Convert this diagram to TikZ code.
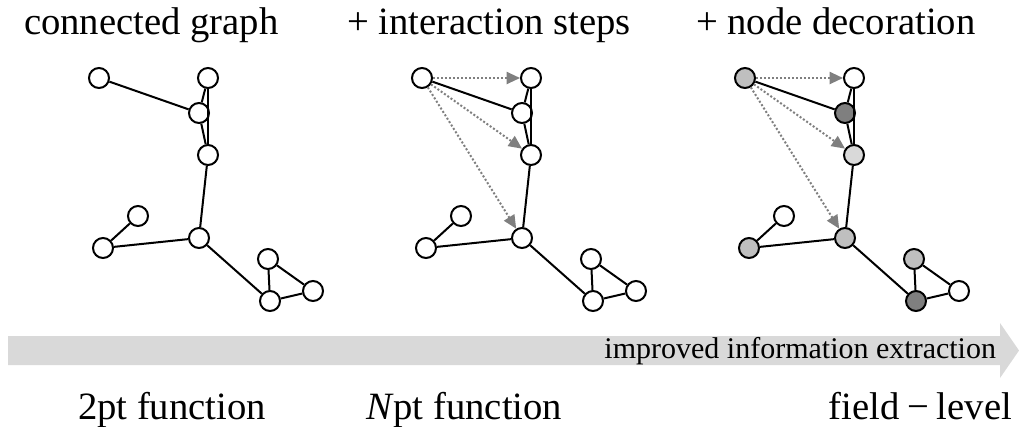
\documentclass[tikz,border=0pt]{standalone}
\usepackage{fontspec}
\setmainfont{Liberation Serif}
\usetikzlibrary{arrows.meta}

\definecolor{lgray}{HTML}{BFBFBF}
\definecolor{dgray}{HTML}{7F7F7F}
\definecolor{pgray}{HTML}{D9D9D9}
\definecolor{bargray}{HTML}{D9D9D9}

\tikzset{every picture/.style={line width=1.5pt}}
\tikzset{
  vtx/.style={circle, draw=black, minimum size=15pt, inner sep=0pt},
  hint/.style={draw=dgray, dash pattern=on 1.5pt off 1.5pt, -{Triangle[length=10pt,width=9pt]}},
  title/.style={anchor=base west, inner sep=0pt, font=\fontsize{29}{34}\selectfont},
  small/.style={anchor=base east, inner sep=0pt, font=\fontsize{22.5}{26}\selectfont}
}

\begin{document}
\begin{tikzpicture}[x=0.75pt,y=0.75pt,yscale=-1,xscale=1]
\useasboundingbox (0,0) rectangle (1019,426);

% three copies of the graph, shifted to the right
\foreach \g/\fa/\fc/\fd/\ff/\fg/\fh/\fj in {1/white/white/white/white/white/white/white,
    2/white/white/white/white/white/white/white,
    3/lgray/dgray/pgray/lgray/lgray/lgray/dgray}{
  \begin{scope}[shift={({323*(\g-1)},0)}]
    % Nodes
    \node[vtx, fill=\fa] (a\g) at (99,78) {};
    \node[vtx, fill=white] (b\g) at (208,78) {};
    \node[vtx, fill=\fc] (c\g) at (199,113) {};
    \node[vtx, fill=\fd] (d\g) at (208,155) {};
    \node[vtx, fill=white] (e\g) at (138,216) {};
    \node[vtx, fill=\ff] (f\g) at (103,248) {};
    \node[vtx, fill=\fg] (g\g) at (199,238) {};
    \node[vtx, fill=\fh] (h\g) at (268,259) {};
    \node[vtx, fill=white] (i\g) at (313,291) {};
    \node[vtx, fill=\fj] (j\g) at (270,301) {};
    % Edges
    \draw (a\g) -- (c\g);
    \draw (b\g) -- (c\g);
    \draw (b\g) -- (d\g);
    \draw (c\g) -- (d\g);
    \draw (d\g) -- (g\g);
    \draw (g\g) -- (f\g);
    \draw (f\g) -- (e\g);
    \draw (g\g) -- (j\g);
    \draw (j\g) -- (h\g);
    \draw (h\g) -- (i\g);
    \draw (i\g) -- (j\g);
  \end{scope}
}

% interaction steps
\foreach \g in {2,3}
  \foreach \t in {b,d,g}
    \draw[hint] (a\g) -- (\t\g);

% Bar arrow
\fill[bargray] (8,336) -- (1000,336) -- (1000,323) -- (1019,350.5) -- (1000,378) -- (1000,365) -- (8,365) -- cycle;

% Text Node
\node[small] (gain) at (997,358) {improved information extraction};
% Text Node
\node[title] (head1) at (23,34) {connected graph};
% Text Node
\node[title] (head2) at (346,34) {+ interaction steps};
% Text Node
\node[title] (head3) at (695,34) {+ node decoration};
% Text Node
\node[title] (foot1) at (77,419) {2pt function};
% Text Node
\node[title] (foot2) at (365,419) {\textit{N}pt function};
% Text Node
\node[title, anchor=base east] (foot3) at (1013,419) {field\hspace{0.2em}−\hspace{0.2em}level};
\end{tikzpicture}
\end{document}
